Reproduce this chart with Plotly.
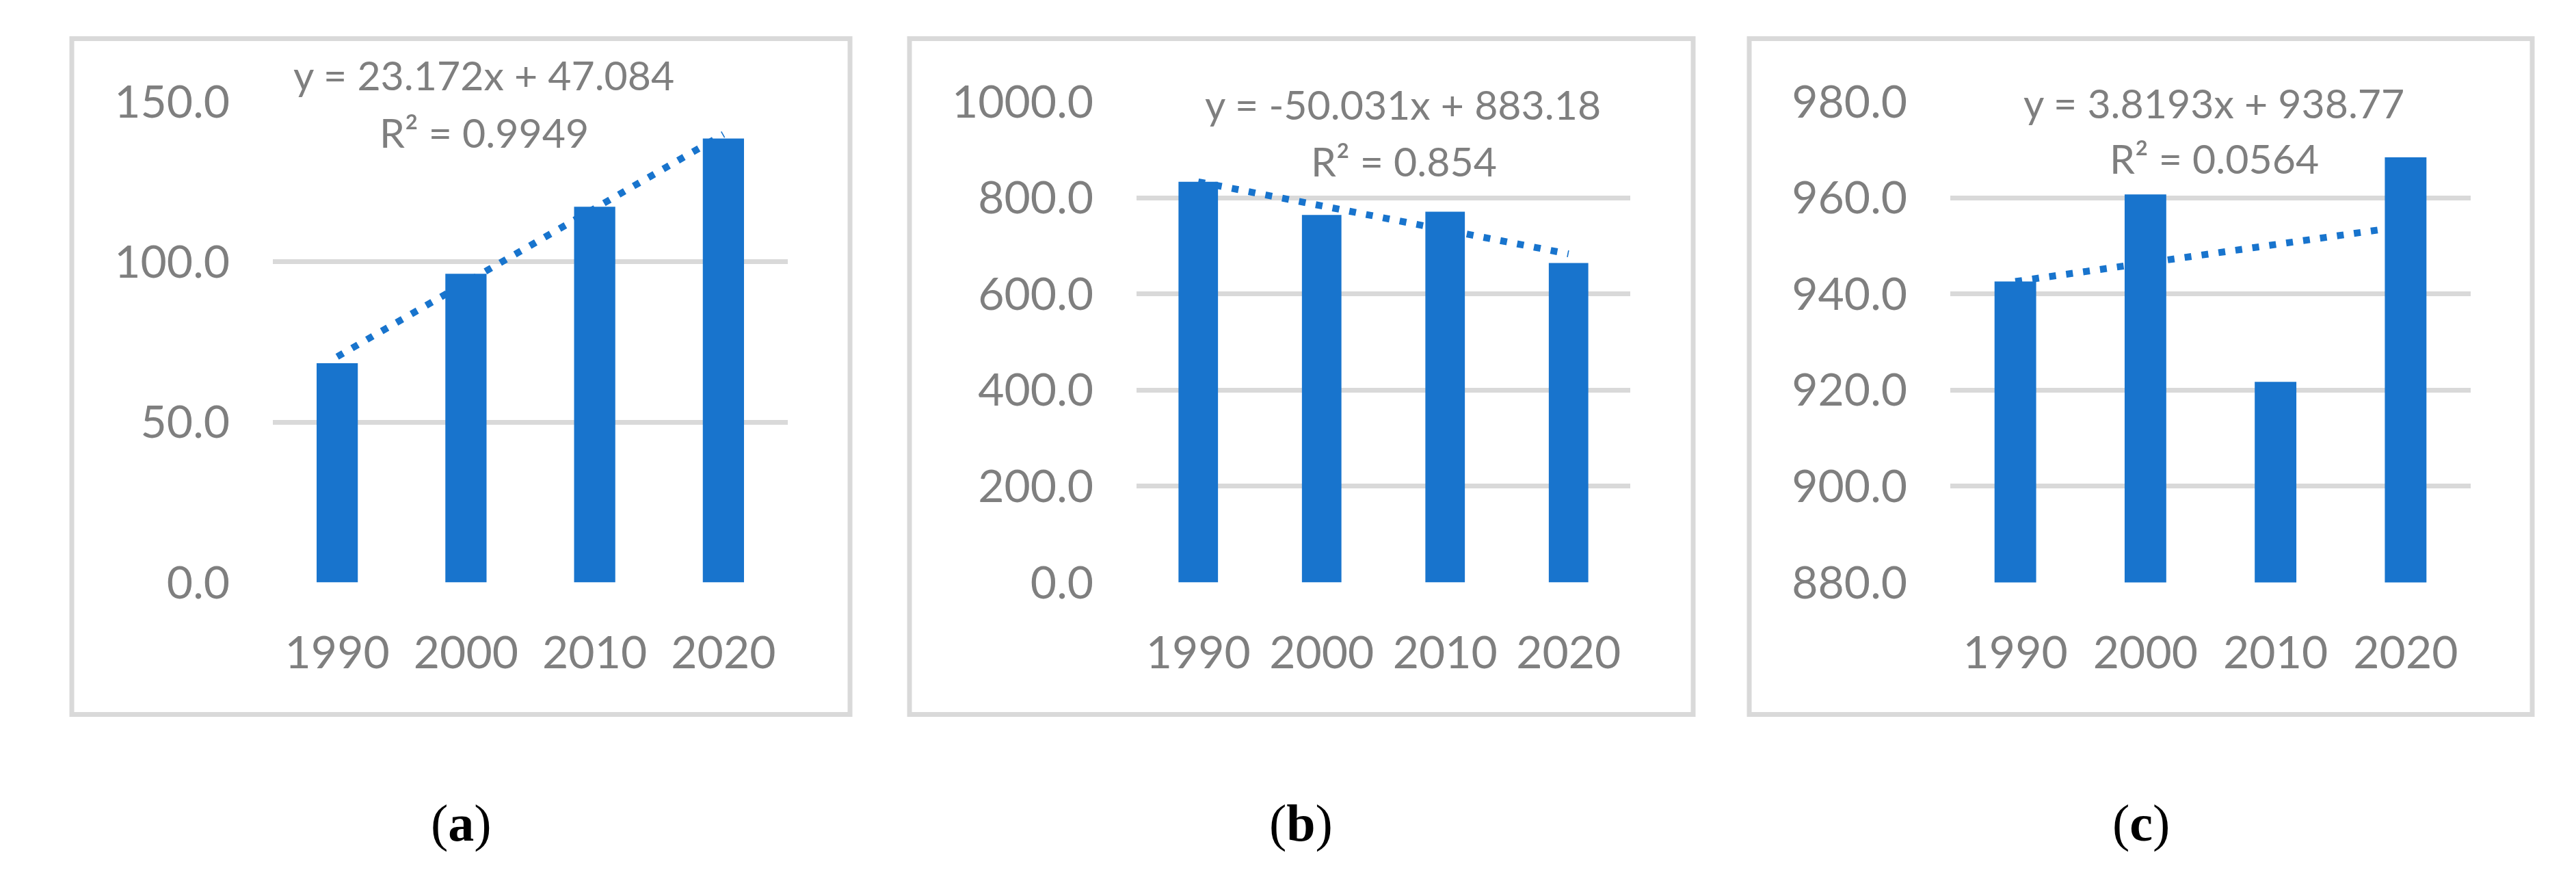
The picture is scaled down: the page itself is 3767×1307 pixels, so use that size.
import numpy as np
import plotly.graph_objects as go

# ---------------- data ----------------
years = ["1990", "2000", "2010", "2020"]
values_a = [68.4, 96.3, 117.2, 138.5]
values_b = [833.2, 764.2, 771.0, 664.4]
values_c = [942.6, 960.7, 921.7, 968.4]

equation_a = ["y = 23.172x + 47.084", "R² = 0.9949"]
equation_b = ["y = -50.031x + 883.18", "R² = 0.854"]
equation_c = ["y = 3.8193x + 938.77", "R² = 0.0564"]

yrange_a = [0, 150]
yrange_b = [0, 1000]
yrange_c = [880, 980]
ydtick_a = 50
ydtick_b = 200
ydtick_c = 20

panel_letters = ["a", "b", "c"]

# ---------------- layout constants (pixels) ----------------
W, H = 3767, 1307
BLUE = "#1874CD"
GRID = "#D9D9D9"
TXT = "#7F7F7F"
FONT = "Lato"

plot_x = [(399, 1152), (1662, 2384), (2852, 3613)]
plot_y = (148.5, 851.5)
boxes = [(105, 1243), (1330, 2476), (2558, 3703)]
box_y = (56.5, 1044.5)
eq_pos = [((707, 110), (708, 193)), ((2051, 153), (2053, 236)), ((3237, 150), (3238, 231))]
label_y = 1203


def fx(p):
    return p / W


def fy(p):
    return 1 - p / H


panels = [
    (values_a, equation_a, yrange_a, ydtick_a),
    (values_b, equation_b, yrange_b, ydtick_b),
    (values_c, equation_c, yrange_c, ydtick_c),
]

fig = go.Figure()
shapes = []
annotations = []
layout = {}

for i, (vals, eq, yr, dt) in enumerate(panels):
    base = i + 1
    over = i + 4
    bx = "x" if base == 1 else f"x{base}"
    by = "y" if base == 1 else f"y{base}"
    ox, oy = f"x{over}", f"y{over}"

    # linear trendline (least squares over category index 1..n), drawn beneath the bars
    idx = np.arange(1, len(vals) + 1)
    slope, intercept = np.polyfit(idx, vals, 1)
    trend = slope * idx + intercept
    fig.add_trace(go.Scatter(
        x=years, y=trend, mode="lines",
        line=dict(color=BLUE, width=10, dash="10px,15px"),
        xaxis=bx, yaxis=by, showlegend=False, hoverinfo="skip",
    ))
    # bars on an overlaying subplot so they sit on top of the trendline
    fig.add_trace(go.Bar(
        x=years, y=vals, marker=dict(color=BLUE, line=dict(width=0)),
        xaxis=ox, yaxis=oy, showlegend=False,
    ))

    xdom = [fx(plot_x[i][0]), fx(plot_x[i][1])]
    ydom = [fy(plot_y[1]), fy(plot_y[0])]
    bxname = "xaxis" if base == 1 else f"xaxis{base}"
    byname = "yaxis" if base == 1 else f"yaxis{base}"
    layout[bxname] = dict(
        domain=xdom, anchor=by, type="category", categoryorder="array",
        categoryarray=years, range=[-0.5, len(years) - 0.5], autorange=False,
        showgrid=False, zeroline=False, showline=False, ticks="",
        tickfont=dict(family=FONT, size=66, color=TXT), ticklabelstandoff=58,
        fixedrange=True, automargin=False,
    )
    layout[byname] = dict(
        domain=ydom, anchor=bx, range=yr, autorange=False, dtick=dt, tick0=yr[0],
        tickformat=".1f", showgrid=True, gridcolor=GRID, gridwidth=7,
        zeroline=False, showline=False, ticks="",
        tickfont=dict(family=FONT, size=66, color=TXT), ticklabelstandoff=62,
        fixedrange=True, automargin=False,
    )
    layout[f"xaxis{over}"] = dict(
        overlaying=bx, anchor=oy, type="category", categoryorder="array",
        categoryarray=years, range=[-0.5, len(years) - 0.5], autorange=False,
        visible=False, fixedrange=True, automargin=False,
    )
    layout[f"yaxis{over}"] = dict(
        overlaying=by, anchor=ox, range=yr, autorange=False, visible=False,
        showgrid=False, fixedrange=True, automargin=False,
    )

    # chart border
    shapes.append(dict(
        type="rect", xref="paper", yref="paper",
        x0=fx(boxes[i][0]), x1=fx(boxes[i][1]),
        y0=fy(box_y[1]), y1=fy(box_y[0]),
        line=dict(color=GRID, width=7), fillcolor="rgba(0,0,0,0)", layer="below",
    ))

    # trendline equation
    for line_txt, (px, py) in zip(eq, eq_pos[i]):
        annotations.append(dict(
            text=line_txt, xref="paper", yref="paper", x=fx(px), y=fy(py),
            xanchor="center", yanchor="middle", showarrow=False,
            font=dict(family=FONT, size=59, color=TXT),
        ))

    # panel label
    cx = (boxes[i][0] + boxes[i][1]) / 2
    annotations.append(dict(
        text=f"(<b>{panel_letters[i]}</b>)", xref="paper", yref="paper",
        x=fx(cx), y=fy(label_y), xanchor="center", yanchor="middle",
        showarrow=False,
        font=dict(family="Liberation Serif", size=76, color="#000000"),
    ))

fig.update_layout(
    width=W, height=H,
    margin=dict(l=0, r=0, t=0, b=0, pad=0, autoexpand=False),
    paper_bgcolor="white", plot_bgcolor="rgba(0,0,0,0)",
    bargap=0.68, showlegend=False,
    shapes=shapes, annotations=annotations,
    **layout,
)

fig.write_html(
    "out.html",
    config={"displayModeBar": False, "staticPlot": True},
    post_script="document.body.style.margin='0px';document.body.style.overflow='hidden';",
)
